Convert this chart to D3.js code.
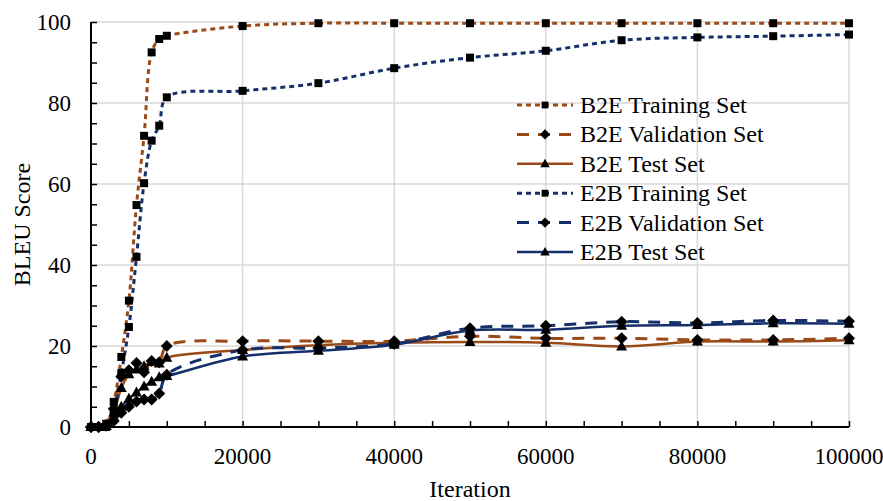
<!DOCTYPE html>
<html>
<head>
<meta charset="utf-8">
<script src="https://cdn.jsdelivr.net/npm/d3@7"></script>
<style>
  body { margin: 0; background: #fff; }
  svg text { font-family: "Liberation Serif", "Times New Roman", serif; fill: #000; }
</style>
</head>
<body>
<div id="chart"></div>
<script>
// Data
const iterations = [0, 1000, 2000, 3000, 4000, 5000, 6000, 7000, 8000, 9000, 10000,
    20000, 30000, 40000, 50000, 60000, 70000, 80000, 90000, 100000];

const b2eTrain = [0, 0, 0.8, 6.2, 17.3, 31.2, 54.8, 71.9, 92.5, 95.8, 96.6,
    99.0, 99.7, 99.7, 99.7, 99.7, 99.7, 99.7, 99.7, 99.7];
const b2eValid = [0, 0, 0.5, 4.5, 12.5, 14.0, 15.8, 13.5, 16.3, 16.0, 20.0,
    21.2, 21.2, 21.2, 22.4, 21.9, 21.9, 21.5, 21.5, 21.9];
const b2eTest = [0, 0, 0.3, 3.5, 9.6, 13.0, 14.2, 15.0, 16.1, 15.7, 17.1,
    19.0, 20.2, 20.8, 21.0, 20.8, 19.9, 21.1, 21.1, 21.4];
const e2bTrain = [0, 0, 0, 3.5, 13.3, 24.7, 42.0, 60.2, 70.7, 74.4, 81.4,
    83.0, 84.9, 88.6, 91.2, 92.9, 95.5, 96.2, 96.5, 96.9];
const e2bValid = [0, 0, 0.3, 1.5, 3.5, 5.0, 6.3, 6.8, 6.8, 8.3, 12.9,
    19.0, 19.5, 20.5, 24.4, 25.0, 26.0, 25.7, 26.3, 26.1];
const e2bTest = [0, 0, 0.3, 2.5, 5.0, 7.0, 8.5, 10.0, 11.2, 12.3, 12.6,
    17.4, 18.8, 20.3, 23.8, 24.0, 25.0, 25.2, 25.6, 25.5];

const seriesNames = ["B2E Training Set", "B2E Validation Set", "B2E Test Set",
    "E2B Training Set", "E2B Validation Set", "E2B Test Set"];
const seriesValues = [b2eTrain, b2eValid, b2eTest, e2bTrain, e2bValid, e2bTest];

const xTicks = [0, 20000, 40000, 60000, 80000, 100000];
const yTicks = [0, 20, 40, 60, 80, 100];

// Configuration
const CONFIG = {
    width: 883,
    height: 501,
    plot: { left: 91, right: 849, top: 22, bottom: 427 },
    brown: "#9a4a17",
    blue: "#152f6b",
    grid: "#d9d9d9",
    font: "Liberation Serif, Times New Roman, serif"
};

// style per series: dash pattern + marker
const STYLES = [
    { color: CONFIG.brown, dash: "5,4", width: 3, marker: "square" },
    { color: CONFIG.brown, dash: "12,9", width: 3, marker: "diamond" },
    { color: CONFIG.brown, dash: null, width: 2.5, marker: "triangle" },
    { color: CONFIG.blue, dash: "5,4", width: 3, marker: "square" },
    { color: CONFIG.blue, dash: "12,9", width: 3, marker: "diamond" },
    { color: CONFIG.blue, dash: null, width: 2.5, marker: "triangle" }
];

const svg = d3.select("#chart").append("svg")
    .attr("width", CONFIG.width)
    .attr("height", CONFIG.height)
    .attr("font-family", CONFIG.font);

const x = d3.scaleLinear().domain([0, 100000]).range([CONFIG.plot.left, CONFIG.plot.right]);
const y = d3.scaleLinear().domain([0, 100]).range([CONFIG.plot.bottom, CONFIG.plot.top]);

// Grid lines
svg.append("g").selectAll("line")
    .data(yTicks.slice(1))
    .join("line")
    .attr("x1", CONFIG.plot.left).attr("x2", CONFIG.plot.right)
    .attr("y1", d => y(d)).attr("y2", d => y(d))
    .attr("stroke", CONFIG.grid).attr("stroke-width", 1.5);

svg.append("g").selectAll("line")
    .data(xTicks.slice(1))
    .join("line")
    .attr("x1", d => x(d)).attr("x2", d => x(d))
    .attr("y1", CONFIG.plot.top).attr("y2", CONFIG.plot.bottom)
    .attr("stroke", CONFIG.grid).attr("stroke-width", 1.5);

// Axes (ticks point inward, every 5 / 5000)
const leftAxis = svg.append("g")
    .attr("transform", `translate(${CONFIG.plot.left},0)`)
    .call(d3.axisRight(y).tickValues(d3.range(0, 101, 5)).tickSize(6).tickFormat(""));
const bottomAxis = svg.append("g")
    .attr("transform", `translate(0,${CONFIG.plot.bottom})`)
    .call(d3.axisTop(x).tickValues(d3.range(0, 100001, 5000)).tickSize(6).tickFormat(""));

[leftAxis, bottomAxis].forEach(g => {
    g.select(".domain").remove();
    g.selectAll(".tick line").attr("stroke", "#000").attr("stroke-width", 1.5);
});

svg.append("line")
    .attr("x1", CONFIG.plot.left).attr("x2", CONFIG.plot.left)
    .attr("y1", CONFIG.plot.top).attr("y2", CONFIG.plot.bottom + 1)
    .attr("stroke", "#000").attr("stroke-width", 2);
svg.append("line")
    .attr("x1", CONFIG.plot.left - 1).attr("x2", CONFIG.plot.right)
    .attr("y1", CONFIG.plot.bottom).attr("y2", CONFIG.plot.bottom)
    .attr("stroke", "#000").attr("stroke-width", 2);

// Tick labels
svg.append("g").selectAll("text")
    .data(yTicks)
    .join("text")
    .attr("x", CONFIG.plot.left - 20)
    .attr("y", d => y(d))
    .attr("dy", "0.33em")
    .attr("text-anchor", "end")
    .attr("font-size", 23)
    .text(d => d);

svg.append("g").selectAll("text")
    .data(xTicks)
    .join("text")
    .attr("x", d => x(d))
    .attr("y", 464)
    .attr("text-anchor", "middle")
    .attr("font-size", 23)
    .text(d => d);

// Axis titles
svg.append("text")
    .attr("x", (CONFIG.plot.left + CONFIG.plot.right) / 2)
    .attr("y", 497)
    .attr("text-anchor", "middle")
    .attr("font-size", 24)
    .text("Iteration");

svg.append("text")
    .attr("transform", `translate(30,${(CONFIG.plot.top + CONFIG.plot.bottom) / 2}) rotate(-90)`)
    .attr("text-anchor", "middle")
    .attr("font-size", 24)
    .text("BLEU Score");

// Markers
function markerPath(type) {
    if (type === "square") return d3.symbol(d3.symbolSquare, 64)();
    if (type === "diamond") return "M0,-6L6,0L0,6L-6,0Z";
    return "M0,-6L5.5,4L-5.5,4Z";
}

const line = d3.line()
    .x(d => x(d[0]))
    .y(d => y(d[1]))
    .curve(d3.curveCatmullRom.alpha(0.5));

// Series lines
seriesValues.forEach((values, i) => {
    const pts = iterations.map((it, j) => [it, values[j]]);
    const st = STYLES[i];
    svg.append("path")
        .datum(pts)
        .attr("d", line)
        .attr("fill", "none")
        .attr("stroke", st.color)
        .attr("stroke-width", st.width)
        .attr("stroke-dasharray", st.dash);
});

// Series markers on top
seriesValues.forEach((values, i) => {
    const st = STYLES[i];
    svg.append("g").selectAll("path")
        .data(iterations.map((it, j) => [it, values[j]]))
        .join("path")
        .attr("transform", d => `translate(${x(d[0])},${y(d[1])})`)
        .attr("d", markerPath(st.marker))
        .attr("fill", "#000");
});

// Legend
const legend = svg.append("g").attr("transform", "translate(517,105)");
const rowGap = 29.4;

seriesNames.forEach((name, i) => {
    const st = STYLES[i];
    const row = legend.append("g").attr("transform", `translate(0,${i * rowGap})`);
    row.append("line")
        .attr("x1", 0).attr("x2", 56)
        .attr("stroke", st.color)
        .attr("stroke-width", st.width)
        .attr("stroke-dasharray", st.dash);
    row.append("path")
        .attr("transform", "translate(28,0) scale(0.85)")
        .attr("d", markerPath(st.marker))
        .attr("fill", "#000");
    row.append("text")
        .attr("x", 63)
        .attr("dy", "0.33em")
        .attr("font-size", 24)
        .attr("font-family", CONFIG.font)
        .text(name);
});
</script>
</body>
</html>
